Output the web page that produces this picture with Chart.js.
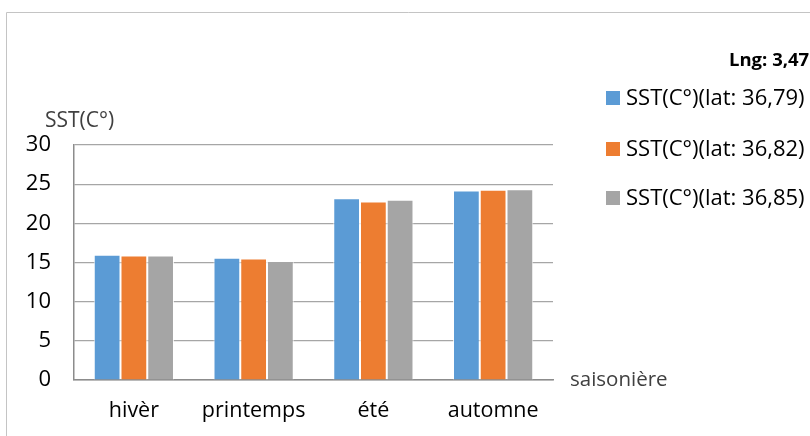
<!DOCTYPE html>
<html>
<head>
<meta charset="utf-8">
<script src="https://cdn.jsdelivr.net/npm/chart.js@4/dist/chart.umd.min.js"></script>
<style>
  html, body { margin: 0; padding: 0; background: #ffffff; }
  #wrap { position: relative; width: 810px; height: 436px; }
</style>
</head>
<body>
<div id="wrap"><canvas id="c" width="810" height="436"></canvas></div>
<script>
// Saisons et températures de surface de la mer (°C) pour trois latitudes
const categories = ['hivèr', 'printemps', 'été', 'automne'];
const seriesLabels = ['SST(C°)(lat: 36,79)', 'SST(C°)(lat: 36,82)', 'SST(C°)(lat: 36,85)'];
const sstLat3679 = [16.0, 15.6, 23.2, 24.2];
const sstLat3682 = [15.9, 15.5, 22.8, 24.3];
const sstLat3685 = [15.9, 15.2, 23.0, 24.35];
const yTicks = [0, 5, 10, 15, 20, 25, 30];
const colors = ['#5B9BD5', '#ED7D31', '#A5A5A5'];

const FONT = '"Open Sans", Lato, sans-serif';

// Cadre, titres d'axes, longitude et légende
const decorations = {
  id: 'decorations',
  afterDraw(chart) {
    const ctx = chart.ctx;
    ctx.save();
    // cadre
    ctx.strokeStyle = '#c4c4c4';
    ctx.lineWidth = 1;
    ctx.beginPath();
    ctx.moveTo(6.5, 436);
    ctx.lineTo(6.5, 12.5);
    ctx.lineTo(810, 12.5);
    ctx.stroke();

    ctx.textAlign = 'left';
    ctx.textBaseline = 'middle';

    // titre de l'axe vertical
    ctx.fillStyle = '#404040';
    ctx.font = '21px ' + FONT;
    ctx.fillText('SST(C°)', 45, 121);

    // titre de l'axe horizontal
    ctx.font = '20.5px ' + FONT;
    ctx.fillText('saisonière', 570, 380);

    // longitude
    ctx.fillStyle = '#000000';
    ctx.font = 'bold 18.5px ' + FONT;
    ctx.fillText('Lng: 3,47', 729, 61);

    // légende
    const rows = [98, 149, 198];
    ctx.font = '22px ' + FONT;
    chart.data.datasets.forEach((ds, i) => {
      ctx.fillStyle = ds.backgroundColor;
      ctx.fillRect(606, rows[i] - 7, 14, 14);
      ctx.fillStyle = '#000000';
      ctx.fillText(ds.label, 626, rows[i] + 1);
    });
    ctx.restore();
  }
};

new Chart(document.getElementById('c'), {
  type: 'bar',
  data: {
    labels: categories,
    datasets: [
      { label: seriesLabels[0], data: sstLat3679, backgroundColor: colors[0] },
      { label: seriesLabels[1], data: sstLat3682, backgroundColor: colors[1] },
      { label: seriesLabels[2], data: sstLat3685, backgroundColor: colors[2] }
    ].map(d => Object.assign(d, {
      borderColor: 'rgba(255,255,255,0.8)',
      borderWidth: 1,
      categoryPercentage: 0.67,
      barPercentage: 1.0
    }))
  },
  options: {
    responsive: false,
    animation: false,
    devicePixelRatio: 1,
    layout: { padding: { left: 0, right: 257, top: 145, bottom: 0 } },
    plugins: {
      legend: { display: false },
      tooltip: { enabled: false }
    },
    scales: {
      x: {
        grid: { display: false, drawTicks: false },
        border: { color: '#8c8c8c', width: 1.5 },
        ticks: { color: '#000000', font: { family: FONT, size: 21.5 }, padding: 18 },
        afterFit(scale) { scale.height = 56; }
      },
      y: {
        min: 0,
        max: 30,
        afterBuildTicks(scale) { scale.ticks = yTicks.map(v => ({ value: v })); },
        grid: { color: '#a6a6a6', lineWidth: 1.2, drawTicks: false },
        border: { color: '#8c8c8c', width: 1.5 },
        ticks: { color: '#000000', font: { family: FONT, size: 22 }, padding: 23 },
        afterFit(scale) { scale.width = 74; }
      }
    }
  },
  plugins: [decorations]
});
</script>
</body>
</html>
